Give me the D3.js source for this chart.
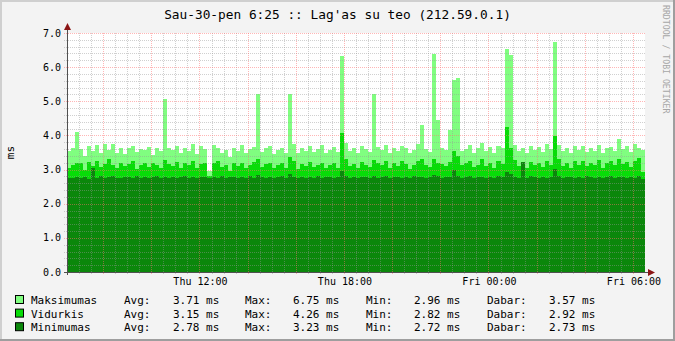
<!DOCTYPE html>
<html lang="lt">
<head>
<meta charset="UTF-8">
<title>Lag'as su teo</title>
<script src="https://cdn.jsdelivr.net/npm/d3@7"></script>
<style>
    body { margin: 0; background: #f3f3f3; }
    svg { display: block; }
    text { font-family: "DejaVu Sans Mono", monospace; fill: #000; }
</style>
</head>
<body>
<svg id="chart"></svg>
<script>
// 10 minute samples, Thu 06:30 -> Fri 06:30
const startTime = new Date(2009, 0, 29, 6, 30);
const stepMinutes = 10;

const maxValues = [
    3.55, 3.62, 4.11, 3.60, 3.40, 3.68, 3.55, 3.72, 3.48, 3.74,
    3.57, 3.75, 3.50, 3.64, 3.46, 3.62, 3.70, 3.52, 3.60, 3.58,
    3.66, 3.42, 3.63, 3.55, 5.07, 3.64, 3.58, 3.70, 3.48, 3.62,
    3.55, 3.74, 3.45, 3.68, 3.60, 2.96, 3.71, 3.64, 3.50, 3.58,
    3.38, 3.64, 3.55, 3.72, 3.48, 3.60, 3.66, 5.21, 3.52, 3.62,
    3.70, 3.45, 3.58, 3.62, 3.50, 5.21, 3.75, 3.48, 3.62, 3.55,
    3.68, 3.52, 3.60, 3.72, 3.48, 3.58, 3.65, 3.52, 6.33, 3.78,
    3.55, 3.62, 3.48, 3.70, 3.60, 3.52, 5.21, 3.66, 3.58, 3.72,
    3.50, 3.64, 3.55, 3.70, 3.62, 3.48, 3.58, 3.75, 4.30, 3.60,
    3.52, 6.38, 4.45, 3.64, 3.58, 4.16, 5.62, 5.68, 3.55, 3.60,
    3.72, 3.48, 3.62, 3.78, 3.55, 3.66, 3.50, 3.70, 3.62, 6.53,
    6.35, 3.72, 3.55, 3.62, 3.48, 3.70, 3.58, 3.66, 3.52, 3.74,
    3.60, 6.75, 3.72, 3.55, 3.62, 3.50, 3.68, 3.58, 3.70, 3.52,
    3.64, 3.55, 3.72, 3.48, 3.62, 3.66, 3.55, 3.90, 3.60, 3.68,
    3.52, 3.74, 3.62, 3.57
];

const avgValues = [
    3.05, 3.12, 3.20, 3.18, 2.98, 3.22, 3.10, 3.26, 3.08, 3.15,
    3.30, 3.12, 3.05, 3.20, 3.10, 3.16, 3.24, 3.02, 3.14, 3.20,
    3.08, 3.18, 3.12, 3.05, 3.28, 3.15, 3.10, 3.22, 3.06, 3.18,
    3.12, 3.25, 3.04, 3.16, 3.20, 2.82, 3.18, 3.24, 3.08, 3.12,
    2.95, 3.20, 3.10, 3.18, 3.05, 3.14, 3.22, 3.30, 3.08, 3.16,
    3.20, 3.04, 3.12, 3.18, 3.06, 3.38, 3.24, 3.02, 3.15, 3.10,
    3.22, 3.08, 3.14, 3.20, 3.04, 3.12, 3.18, 3.06, 4.08, 3.30,
    3.10, 3.16, 3.05, 3.22, 3.14, 3.08, 3.28, 3.18, 3.12, 3.24,
    3.06, 3.20, 3.10, 3.25, 3.15, 3.02, 3.12, 3.26, 3.30, 3.14,
    3.08, 3.32, 3.20, 3.16, 3.10, 3.22, 3.55, 3.40, 3.12, 3.18,
    3.26, 3.08, 3.14, 3.30, 3.10, 3.20, 3.06, 3.24, 3.16, 4.26,
    3.62, 3.28, 3.10, 3.18, 3.04, 3.22, 3.12, 3.20, 3.08, 3.26,
    3.14, 3.98, 3.30, 3.10, 3.18, 3.06, 3.24, 3.14, 3.26, 3.10,
    3.20, 3.12, 3.28, 3.06, 3.18, 3.24, 3.14, 3.30, 3.16, 3.22,
    3.08, 3.26, 3.34, 2.92
];

const minValues = [
    2.76, 2.74, 2.78, 2.75, 2.77, 2.73, 3.05, 2.76, 2.80, 2.75,
    2.78, 2.82, 2.76, 2.74, 2.79, 2.77, 2.75, 2.80, 2.76, 2.78,
    2.74, 2.77, 2.82, 2.76, 2.79, 2.75, 2.78, 2.74, 2.77, 2.80,
    2.76, 2.78, 2.75, 2.79, 2.77, 2.74, 2.78, 2.76, 2.80, 2.75,
    2.77, 2.79, 2.74, 2.78, 2.76, 2.81, 2.75, 2.83, 2.77, 2.76,
    2.79, 2.74, 2.78, 2.80, 2.75, 2.86, 2.77, 2.76, 2.79, 2.74,
    2.78, 2.76, 2.80, 2.75, 2.77, 2.79, 2.74, 2.78, 2.96, 2.80,
    2.76, 2.78, 2.75, 2.79, 2.77, 2.74, 2.82, 2.76, 2.78, 2.80,
    2.75, 2.77, 2.79, 2.76, 2.78, 2.74, 2.80, 2.77, 2.79, 2.76,
    2.78, 2.84, 2.80, 2.75, 2.77, 2.79, 3.00, 2.82, 2.76, 2.78,
    2.80, 2.75, 2.77, 2.79, 2.76, 2.78, 2.74, 2.80, 2.77, 2.92,
    2.86, 2.79, 2.76, 3.23, 2.75, 2.80, 2.77, 2.74, 2.79, 2.76,
    2.78, 3.02, 2.80, 2.75, 2.77, 2.79, 2.76, 2.78, 2.74, 2.80,
    2.77, 2.75, 2.79, 2.76, 2.78, 2.80, 2.74, 2.77, 2.79, 2.76,
    2.78, 2.75, 2.80, 2.73
];

// legend
const seriesNames = ["Maksimumas", "Vidurkis", "Minimumas"];
const seriesColors = ["#80fe80", "#08dc08", "#0b870b"];
const statLabels = ["Avg:", "Max:", "Min:", "Dabar:"];
const statValues = [
    ["3.71", "6.75", "2.96", "3.57"],
    ["3.15", "4.26", "2.82", "2.92"],
    ["2.78", "3.23", "2.72", "2.73"]
];

const title = "Sau-30-pen 6:25 :: Lag'as su teo (212.59.0.1)";
const yLabel = "ms";
const watermark = "RRDTOOL / TOBI OETIKER";

const width = 675, height = 341;
const plotLeft = 67, plotRight = 645, plotTop = 33, plotBottom = 272;

const svg = d3.select("#chart")
    .attr("width", width)
    .attr("height", height);

// frame
svg.append("rect").attr("width", width).attr("height", height).attr("fill", "#f3f3f3");
svg.append("rect").attr("x", 0).attr("y", 0).attr("width", width).attr("height", 2).attr("fill", "#cfcfcf");
svg.append("rect").attr("x", 0).attr("y", 0).attr("width", 2).attr("height", height).attr("fill", "#cfcfcf");
svg.append("rect").attr("x", 0).attr("y", height - 2).attr("width", width).attr("height", 2).attr("fill", "#9e9e9e");
svg.append("rect").attr("x", width - 2).attr("y", 0).attr("width", 2).attr("height", height).attr("fill", "#9e9e9e");

const times = maxValues.map((d, i) => d3.timeMinute.offset(startTime, i * stepMinutes));
const endTime = d3.timeMinute.offset(startTime, maxValues.length * stepMinutes);

const x = d3.scaleTime().domain([startTime, endTime]).range([plotLeft, plotRight]);
const y = d3.scaleLinear().domain([0, 7]).range([plotBottom, plotTop]);

svg.append("rect")
    .attr("x", plotLeft).attr("y", plotTop)
    .attr("width", plotRight - plotLeft).attr("height", plotBottom - plotTop)
    .attr("fill", "#ffffff");

// areas (drawn one over another, like rrdtool AREA)
const area = d3.area()
    .curve(d3.curveStepAfter)
    .x(d => x(d.t))
    .y0(y(0))
    .y1(d => y(d.v));

[maxValues, avgValues, minValues].forEach((vals, k) => {
    const pts = vals.map((v, i) => ({t: times[i], v: v}));
    pts.push({t: endTime, v: vals[vals.length - 1]});
    svg.append("path")
        .attr("d", area(pts))
        .attr("fill", seriesColors[k])
        .attr("shape-rendering", "crispEdges");
});

// grid on top
const grid = svg.append("g");
const minorColor = "rgba(150,150,150,0.45)";
const majorColor = "rgba(255,110,110,0.5)";
const minorX = d3.timeMinute.every(30).range(startTime, endTime)
    .filter(t => t.getMinutes() !== 0 || t.getHours() % 2 !== 0);
const majorX = d3.timeHour.every(2).range(startTime, endTime);

grid.selectAll(".mx").data(minorX).join("line")
    .attr("x1", d => Math.round(x(d)) + 0.5).attr("x2", d => Math.round(x(d)) + 0.5)
    .attr("y1", plotTop).attr("y2", plotBottom + 3)
    .attr("stroke", minorColor).attr("stroke-dasharray", "1,1");

const minorY = d3.range(1, 36).map(i => i * 0.2).filter(v => Math.abs(v - Math.round(v)) > 0.01);
grid.selectAll(".my").data(minorY).join("line")
    .attr("x1", plotLeft - 3).attr("x2", plotRight)
    .attr("y1", d => Math.round(y(d)) + 0.5).attr("y2", d => Math.round(y(d)) + 0.5)
    .attr("stroke", minorColor).attr("stroke-dasharray", "1,1");

grid.selectAll(".Mx").data(majorX).join("line")
    .attr("x1", d => Math.round(x(d)) + 0.5).attr("x2", d => Math.round(x(d)) + 0.5)
    .attr("y1", plotTop).attr("y2", plotBottom + 3)
    .attr("stroke", majorColor).attr("stroke-dasharray", "1,1");

const majorY = d3.range(1, 8);
grid.selectAll(".My").data(majorY).join("line")
    .attr("x1", plotLeft - 3).attr("x2", plotRight)
    .attr("y1", d => Math.round(y(d)) + 0.5).attr("y2", d => Math.round(y(d)) + 0.5)
    .attr("stroke", majorColor).attr("stroke-dasharray", "1,1");

// axes
const axisColor = "#505050", arrowColor = "#8b1515";
svg.append("line")
    .attr("x1", plotLeft + 0.5).attr("x2", plotLeft + 0.5)
    .attr("y1", plotBottom + 3).attr("y2", plotTop - 5)
    .attr("stroke", axisColor);
svg.append("line")
    .attr("x1", plotLeft - 3).attr("x2", plotRight + 4)
    .attr("y1", plotBottom + 0.5).attr("y2", plotBottom + 0.5)
    .attr("stroke", axisColor);
svg.append("path")
    .attr("d", `M${plotLeft - 3},${plotTop - 3}L${plotLeft + 4},${plotTop - 3}L${plotLeft + 0.5},${plotTop - 10}Z`)
    .attr("fill", arrowColor);
svg.append("path")
    .attr("d", `M${plotRight + 3},${plotBottom - 3}L${plotRight + 3},${plotBottom + 4}L${plotRight + 10},${plotBottom + 0.5}Z`)
    .attr("fill", arrowColor);

// tick labels
const yTicks = d3.range(0, 8);
svg.selectAll(".ylab").data(yTicks).join("text")
    .attr("x", plotLeft - 6)
    .attr("y", d => y(d) + 3.5)
    .attr("text-anchor", "end")
    .style("font-size", "10px")
    .text(d3.format(".1f"));

const xTicks = d3.timeHour.every(6).range(startTime, endTime);
const fmt = d3.timeFormat("%a %H:%M");
svg.selectAll(".xlab").data(xTicks).join("text")
    .attr("x", d => x(d) + 1)
    .attr("y", 285)
    .attr("text-anchor", "middle")
    .style("font-size", "10px")
    .text(fmt);

// title and labels
svg.append("text")
    .attr("x", 337.5).attr("y", 19)
    .attr("text-anchor", "middle")
    .style("font-size", "12.8px")
    .text(title);

svg.append("text")
    .attr("transform", `translate(14,${(plotTop + plotBottom) / 2}) rotate(-90)`)
    .attr("text-anchor", "middle")
    .style("font-size", "11px")
    .text(yLabel);

svg.append("text")
    .attr("transform", "translate(663,5) rotate(90)")
    .style("font-size", "8.2px")
    .style("fill", "#a6a6a6")
    .text(watermark);

// legend
const statX = [124, 245, 366, 487];
const valX = [173, 293, 414, 549];
seriesNames.forEach((name, i) => {
    const yy = 304 + i * 13.6;
    svg.append("rect")
        .attr("x", 15.5).attr("y", yy - 8.5)
        .attr("width", 8).attr("height", 8)
        .attr("fill", seriesColors[i])
        .attr("stroke", "#000");
    svg.append("text").attr("x", 31).attr("y", yy).style("font-size", "11px").text(name);
    statLabels.forEach((s, j) => {
        svg.append("text").attr("x", statX[j]).attr("y", yy).style("font-size", "11px").text(s);
        svg.append("text").attr("x", valX[j]).attr("y", yy).style("font-size", "11px")
            .text(statValues[i][j] + " ms");
    });
});
</script>
</body>
</html>
